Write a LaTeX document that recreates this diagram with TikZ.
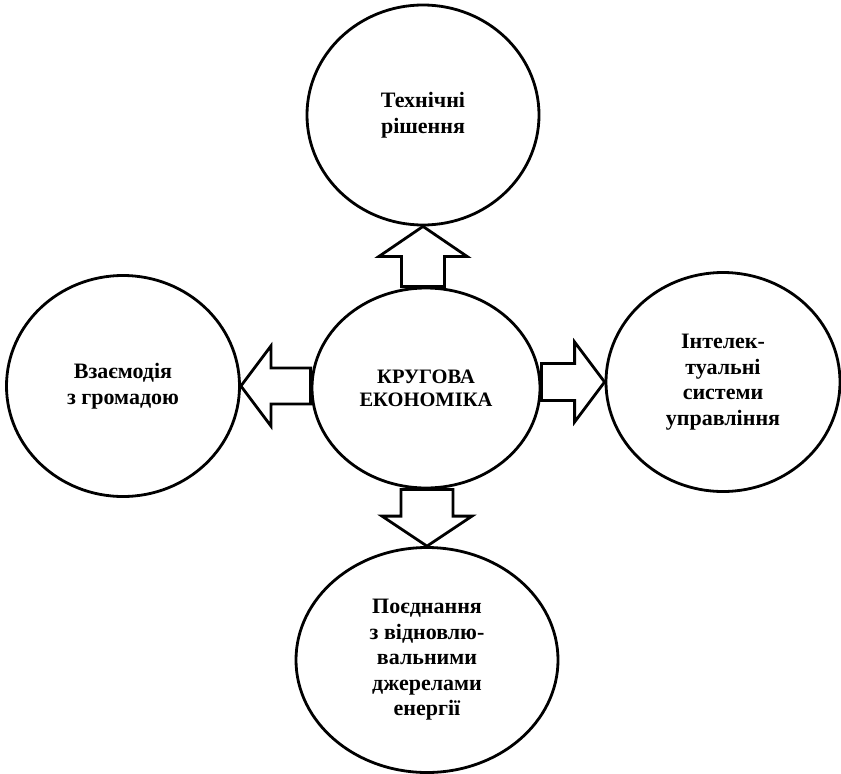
\documentclass[tikz,border=0pt]{standalone}
\usepackage{fontspec}
\setmainfont{Liberation Serif}
\usetikzlibrary{shapes.geometric,calc}
\tikzset{%
    topic/.style={%
        ellipse, draw, line width=2.8pt, inner sep=0pt,
        align=center, font=\fontsize{22}{25.5}\selectfont\bfseries
    },
    hub/.style={topic, font=\fontsize{20.5}{23}\selectfont\bfseries},
    blockarrow/.style={draw, line width=2.8pt, fill=white, line join=miter}
}
% block arrow from point #1 to node anchor #2, half shaft #3, half head #4
\newcommand{\blkarrow}[4]{%
  \coordinate (s) at (#1);
  \coordinate (h) at ($(#2)!30pt!(s)$);
  \draw[blockarrow] ($(s)!#3pt!90:(#2)$) -- ($(h)!#3pt!-90:(s)$)
    -- ($(h)!#4pt!-90:(s)$) -- (#2) -- ($(h)!#4pt!90:(s)$)
    -- ($(h)!#3pt!90:(s)$) -- ($(s)!#3pt!-90:(#2)$) -- cycle;
}

\begin{document}
\begin{tikzpicture}[x=1pt,y=-1pt]
  \useasboundingbox (0,0) rectangle (841,774);

  \node[hub, minimum width=228pt, minimum height=200pt] (eco) at (426,388) {КРУГОВА\\ЕКОНОМІКА};
  \node[topic, minimum width=232pt, minimum height=220pt] (tech) at (423,115) {Технічні\\рішення};
  \node[topic, minimum width=233pt, minimum height=221pt] (soc) at (123,386) {Взаємодія\\з громадою};
  \node[topic, minimum width=234pt, minimum height=219pt] (smart) at (723,382) {Інтелек-\\туальні\\системи\\управління};
  \node[topic, minimum width=262pt, minimum height=225pt] (green) at (427,660) {Поєднання\\з відновлю-\\вальними\\джерелами\\енергії};

  \blkarrow{eco.north -| tech.south}{tech.south}{21.5}{44}
  \blkarrow{eco.east |- smart.west}{smart.west}{18.5}{40}
  \blkarrow{eco.west |- soc.east}{soc.east}{18}{40}
  \blkarrow{green.north |- eco.south}{green.north}{26}{45}
\end{tikzpicture}
\end{document}
